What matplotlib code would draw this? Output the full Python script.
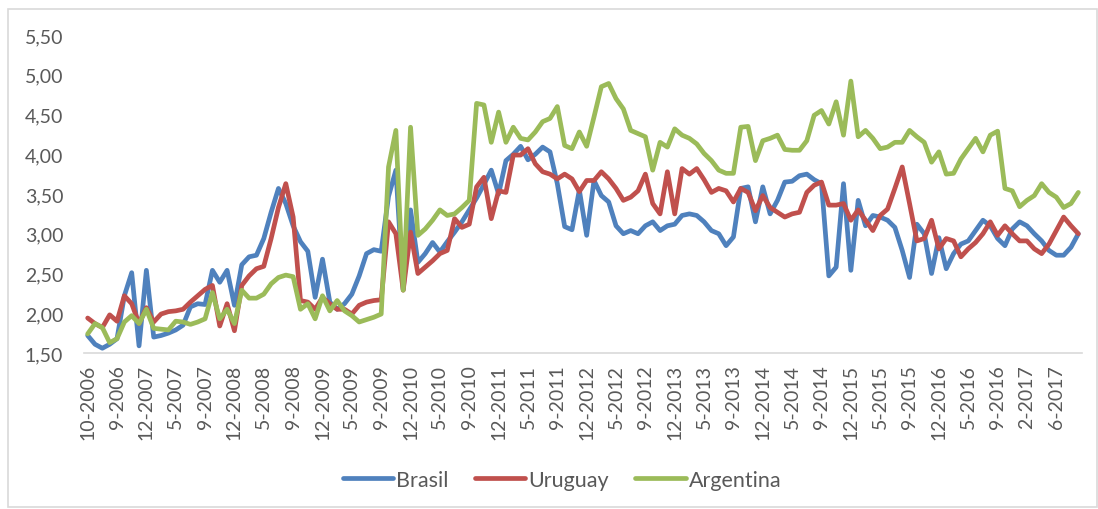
import matplotlib.pyplot as plt
from matplotlib.patches import Rectangle

tick_labels = ['10-2006', '9-2006', '12-2007', '5-2007', '9-2007', '12-2008', '5-2008', '9-2008',
               '12-2009', '5-2009', '9-2009', '12-2010', '5-2010', '9-2010', '12-2011', '5-2011',
               '9-2011', '12-2012', '5-2012', '9-2012', '12-2013', '5-2013', '9-2013', '12-2014',
               '5-2014', '9-2014', '12-2015', '5-2015', '9-2015', '12-2016', '5-2016', '9-2016',
               '2-2017', '6-2017']

brasil = [1.72, 1.61, 1.56, 1.61, 1.68, 2.22, 2.51, 1.59, 2.54, 1.70,
          1.72, 1.75, 1.79, 1.85, 2.08, 2.12, 2.11, 2.54, 2.39, 2.54,
          2.10, 2.61, 2.71, 2.73, 2.94, 3.27, 3.57, 3.38, 3.10, 2.90,
          2.78, 2.20, 2.68, 2.14, 2.05, 2.12, 2.24, 2.47, 2.75, 2.80,
          2.78, 3.47, 3.80, 2.30, 3.30, 2.64, 2.75, 2.89, 2.77, 2.90,
          3.02, 3.15, 3.30, 3.45, 3.62, 3.80, 3.50, 3.92, 4.00, 4.10,
          3.93, 4.00, 4.09, 4.03, 3.63, 3.09, 3.05, 3.55, 2.98, 3.67,
          3.48, 3.40, 3.10, 3.00, 3.04, 3.00, 3.10, 3.15, 3.04, 3.10,
          3.12, 3.23, 3.25, 3.23, 3.15, 3.04, 3.00, 2.85, 2.96, 3.57,
          3.59, 3.15, 3.59, 3.25, 3.42, 3.65, 3.66, 3.73, 3.75, 3.68,
          3.63, 2.47, 2.58, 3.63, 2.54, 3.42, 3.10, 3.23, 3.21, 3.17,
          3.08, 2.79, 2.45, 3.12, 3.00, 2.50, 2.95, 2.56, 2.75, 2.87,
          2.91, 3.04, 3.17, 3.10, 2.94, 2.85, 3.06, 3.15, 3.10, 3.00,
          2.91, 2.79, 2.73, 2.73, 2.83, 3.00]

uruguay = [1.94, 1.87, 1.82, 1.98, 1.90, 2.22, 2.12, 1.87, 2.07, 1.89,
           1.99, 2.02, 2.03, 2.05, 2.14, 2.22, 2.30, 2.35, 1.84, 2.12,
           1.78, 2.35, 2.47, 2.56, 2.59, 2.94, 3.33, 3.63, 3.21, 2.16,
           2.14, 2.05, 2.20, 2.12, 2.05, 2.05, 1.99, 2.10, 2.14, 2.16,
           2.17, 3.15, 3.00, 2.29, 3.02, 2.50, 2.58, 2.66, 2.75, 2.79,
           3.19, 3.08, 3.12, 3.59, 3.71, 3.19, 3.54, 3.52, 3.99, 3.99,
           4.07, 3.88, 3.78, 3.75, 3.69, 3.75, 3.69, 3.53, 3.67, 3.67,
           3.78, 3.69, 3.57, 3.42, 3.46, 3.54, 3.75, 3.38, 3.25, 3.78,
           3.25, 3.82, 3.75, 3.82, 3.68, 3.52, 3.57, 3.54, 3.40, 3.57,
           3.52, 3.29, 3.48, 3.33, 3.27, 3.21, 3.25, 3.27, 3.52, 3.61,
           3.65, 3.36, 3.36, 3.38, 3.17, 3.30, 3.17, 3.04, 3.23, 3.31,
           3.57, 3.84, 3.38, 2.91, 2.94, 3.17, 2.81, 2.94, 2.91, 2.71,
           2.81, 2.89, 3.00, 3.15, 2.98, 3.10, 3.00, 2.91, 2.91, 2.81,
           2.75, 2.87, 3.04, 3.21, 3.10, 3.00]

argentina = [1.74, 1.87, 1.82, 1.63, 1.68, 1.89, 1.97, 1.87, 2.05, 1.81,
             1.80, 1.79, 1.90, 1.89, 1.86, 1.89, 1.93, 2.26, 1.93, 2.05,
             1.87, 2.29, 2.19, 2.19, 2.24, 2.37, 2.45, 2.48, 2.46, 2.05,
             2.12, 1.93, 2.22, 2.03, 2.16, 2.03, 1.97, 1.89, 1.92, 1.95,
             1.99, 3.84, 4.30, 2.29, 4.34, 2.98, 3.06, 3.17, 3.30, 3.23,
             3.25, 3.33, 3.42, 4.64, 4.62, 4.15, 4.53, 4.15, 4.34, 4.20,
             4.18, 4.28, 4.41, 4.45, 4.60, 4.11, 4.07, 4.28, 4.10, 4.47,
             4.85, 4.89, 4.70, 4.57, 4.30, 4.26, 4.22, 3.80, 4.15, 4.09,
             4.32, 4.24, 4.20, 4.13, 4.01, 3.92, 3.80, 3.76, 3.76, 4.34,
             4.35, 3.92, 4.17, 4.20, 4.24, 4.06, 4.05, 4.05, 4.17, 4.49,
             4.55, 4.38, 4.66, 4.24, 4.92, 4.22, 4.30, 4.20, 4.07, 4.09,
             4.15, 4.15, 4.30, 4.22, 4.15, 3.90, 4.03, 3.75, 3.76, 3.94,
             4.07, 4.20, 4.03, 4.24, 4.29, 3.57, 3.54, 3.34, 3.42, 3.48,
             3.63, 3.52, 3.46, 3.33, 3.38, 3.52]

series = [('Brasil', brasil, '#4F81BD'),
          ('Uruguay', uruguay, '#C0504D'),
          ('Argentina', argentina, '#9BBB59')]

plt.rcParams['font.family'] = ['Lato', 'DejaVu Sans']

fig = plt.figure(figsize=(10.98, 5.10), dpi=100)
ax = fig.add_axes([84 / 1098, 156 / 510, 998 / 1098, 318 / 510])

for name, values, color in series:
    ax.plot(range(len(values)), values, color=color, lw=3.4, label=name,
            solid_joinstyle='round', solid_capstyle='round')

ax.set_xlim(-0.5, len(brasil) - 0.5)
ax.set_ylim(1.5, 5.5)
ax.set_yticks([1.5 + 0.5 * k for k in range(9)])
ax.set_yticklabels([f'{1.5 + 0.5 * k:.2f}'.replace('.', ',') for k in range(9)])
ax.set_xticks(range(0, 4 * len(tick_labels), 4))
ax.set_xticklabels(tick_labels, rotation=90)

for side in ['top', 'right', 'left']:
    ax.spines[side].set_visible(False)
ax.spines['bottom'].set_color('#D9D9D9')
ax.spines['bottom'].set_linewidth(1.2)
ax.tick_params(axis='both', length=0, labelsize=14, colors='#595959')
ax.tick_params(axis='y', pad=15)
ax.tick_params(axis='x', pad=8)

fig.legend(loc='center', bbox_to_anchor=(562 / 1098, 1 - 481 / 510), ncol=3,
           frameon=False, fontsize=15.5, labelcolor='#595959',
           handlelength=2.35, handletextpad=0.15, columnspacing=1.2)

fig.patches.append(Rectangle((8 / 1098, 2 / 510), 1089 / 1098, 498 / 510,
                             transform=fig.transFigure, fill=False,
                             edgecolor='#D9D9D9', lw=1.2))

fig.savefig('out.png', dpi=100)
